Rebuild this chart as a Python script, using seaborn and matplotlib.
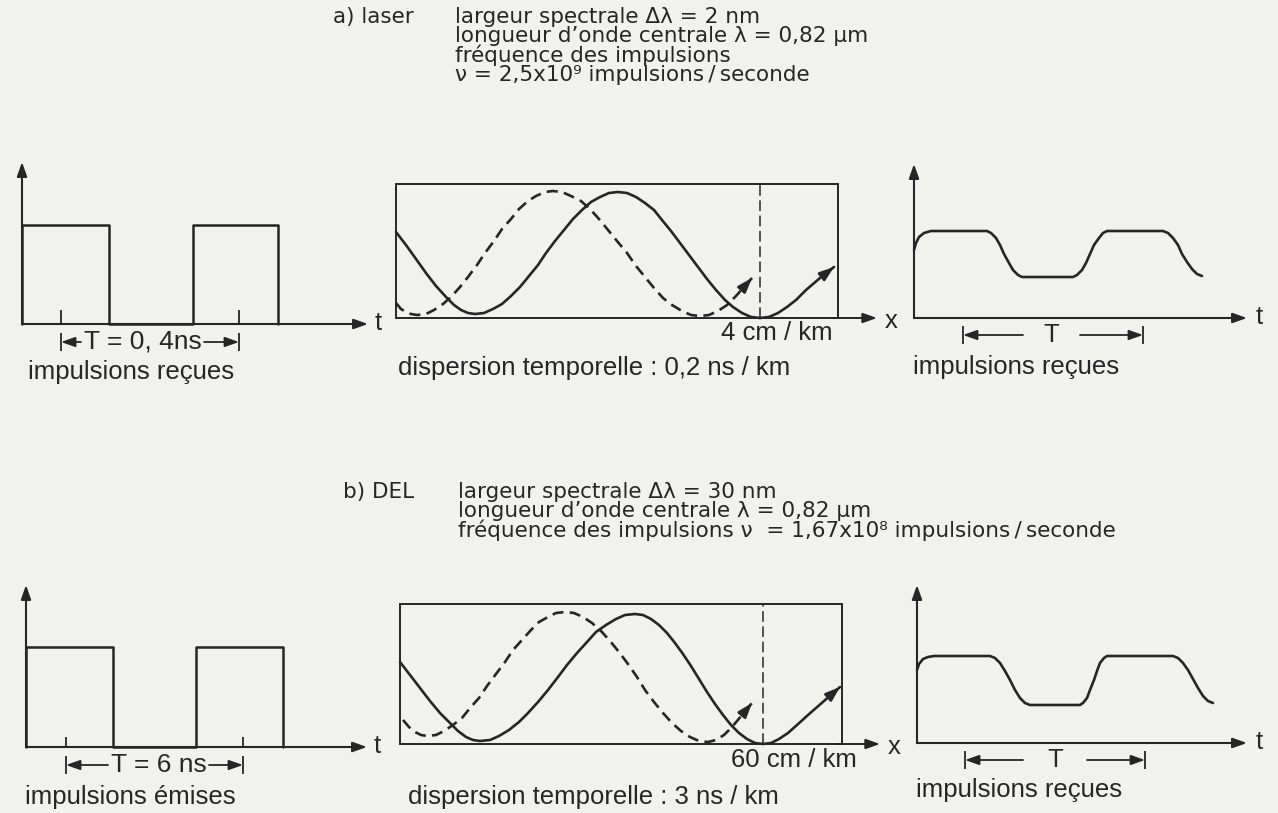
import matplotlib
matplotlib.use("Agg")
import matplotlib.pyplot as plt
import pandas as pd
import seaborn as sns

# ------------------------------------------------------------------ data
# a) laser : emitted pulse train (local units, t along axis / amplitude)
a_pulse_t = [0, 0, 87, 87, 171, 171, 256, 256]
a_pulse_v = [0, 99, 99, 0, 0, 99, 99, 0]
a_period_marks = [39, 217]

# a) laser : propagation diagram (x along fibre / t)
a_solid_x = [0, 10, 20, 30, 40, 50, 58, 65, 72, 79, 88, 97, 106, 115, 124, 133, 142, 150,
             159, 168, 177, 186, 195, 204, 213, 222, 231, 240, 249, 258, 266, 275, 284,
             293, 302, 311, 320, 329, 337, 346, 355, 364, 373, 382, 391, 400, 410, 424, 438]
a_solid_y = [86, 73, 59, 45, 32, 21, 13, 8, 5, 4, 5, 9, 14, 22, 31, 42, 53, 65,
             77, 88, 99, 108, 116, 121, 125, 126, 125, 121, 115, 108, 98, 87, 75,
             63, 51, 39, 28, 18, 11, 5, 1, 0, 1, 5, 11, 18, 28, 40, 51]
a_dash_x = [0, 5, 10, 15, 21, 30, 38, 47, 55, 64, 72, 81, 89, 98, 106, 115, 123, 132, 140,
            149, 157, 166, 175, 185, 194, 203, 212, 221, 231, 240, 249, 258, 267, 276,
            286, 295, 304, 313, 322, 331, 340, 348, 356]
a_dash_y = [15, 9, 6, 4, 3, 4, 8, 14, 21, 31, 41, 53, 65, 77, 89, 99, 109, 117, 122,
            126, 127, 126, 122, 117, 109, 99, 88, 77, 65, 52, 41, 30, 20, 13,
            7, 3, 2, 3, 7, 13, 22, 31, 40]
a_delay_x = 364

# a) laser : received pulses
a_rx_t = [0, 2, 5, 10, 17, 40, 73, 77, 82, 86, 90, 95, 99, 104, 108, 130, 159, 163, 168,
          172, 176, 180, 185, 189, 193, 220, 249, 254, 259, 264, 268, 273, 278, 283, 288]
a_rx_v = [68, 75, 81, 85, 87, 87, 87, 85, 80, 73, 64, 55, 48, 43, 41, 41, 41, 43, 48,
          55, 64, 73, 80, 85, 87, 87, 87, 85, 80, 73, 64, 56, 49, 44, 42]
a_rx_marks = [49, 229]

# b) DEL : emitted pulse train
b_pulse_t = [0, 0, 87, 87, 170, 170, 257, 257]
b_pulse_v = [0, 100, 100, 0, 0, 100, 100, 0]
b_period_marks = [40, 217]

# b) DEL : propagation diagram
b_solid_x = [0, 10, 20, 30, 40, 50, 58, 66, 73, 80, 90, 99, 109, 119, 128, 138, 148, 158,
             167, 177, 187, 196, 206, 216, 225, 235, 243, 251, 259, 267, 275, 283, 291,
             299, 307, 315, 323, 331, 339, 347, 355, 363, 371, 379, 388, 397, 408, 424, 440]
b_solid_y = [82, 69, 56, 43, 31, 21, 13, 7, 4, 3, 4, 8, 14, 22, 31, 42, 54, 67,
             79, 91, 102, 112, 119, 125, 129, 130, 129, 125, 119, 111, 101, 90, 78,
             65, 52, 40, 29, 19, 11, 5, 1, 0, 1, 5, 11, 19, 29, 43, 57]
b_dash_x = [3, 9, 15, 21, 27, 36, 44, 53, 62, 70, 79, 87, 96, 105, 113, 122, 131, 139, 148,
            156, 165, 174, 183, 192, 201, 210, 219, 228, 237, 245, 254, 263, 272, 281,
            290, 299, 308, 316, 324, 332, 342, 352]
b_dash_y = [24, 17, 12, 9, 8, 9, 13, 19, 26, 36, 46, 58, 70, 82, 94, 104, 114, 122, 127,
            131, 132, 131, 127, 121, 113, 103, 92, 80, 67, 54, 42, 31, 21, 13,
            7, 3, 2, 4, 9, 17, 29, 41]
b_delay_x = 363

# b) DEL : received pulses
b_rx_t = [0, 2, 6, 11, 17, 40, 73, 78, 83, 88, 93, 98, 103, 108, 113, 138, 163, 166, 170,
          173, 177, 180, 183, 187, 190, 220, 256, 261, 266, 271, 276, 281, 286, 291, 296]
b_rx_v = [73, 79, 84, 86, 87, 87, 87, 85, 80, 72, 63, 53, 45, 40, 38, 38, 38, 40, 45,
          53, 63, 72, 80, 85, 87, 87, 87, 85, 80, 73, 64, 55, 47, 42, 40]
b_rx_marks = [48, 228]

# texts
a_title = "a) laser"
a_lines = ["largeur spectrale \u0394\u03bb = 2 nm",
           "longueur d\u2019onde centrale \u03bb = 0,82 \u03bcm",
           "fr\u00e9quence des impulsions",
           "\u03bd = 2,5x10\u2079 impulsions\u2009/\u2009seconde"]
b_title = "b) DEL"
b_lines = ["largeur spectrale \u0394\u03bb = 30 nm",
           "longueur d\u2019onde centrale \u03bb = 0,82 \u03bcm",
           "fr\u00e9quence des impulsions \u03bd  = 1,67x10\u2078 impulsions\u2009/\u2009seconde"]
a_period_text = "T = 0, 4ns"
b_period_text = "T = 6 ns"
a_left_label = "impulsions re\u00e7ues"
b_left_label = "impulsions \u00e9mises"
a_shift_text = "4 cm / km"
b_shift_text = "60 cm / km"
a_disp_text = "dispersion temporelle : 0,2 ns / km"
b_disp_text = "dispersion temporelle : 3 ns / km"
rx_period_text = "T"
rx_label = "impulsions re\u00e7ues"

# ------------------------------------------------------------------ style
W, H = 1278, 813
BG = "#f1f1ee"
INK = "#262626"
sns.set_theme(style="white")
plt.rcParams["font.family"] = ["Liberation Sans", "DejaVu Sans"]
LAB = 18.5
HDR = 15.5
HDR_FONT = ["DejaVu Sans"]

fig = plt.figure(figsize=(W / 100, H / 100), dpi=100, facecolor=BG)


def panel(left, top, width, height, ox, oy):
    ax = fig.add_axes([left / W, 1 - (top + height) / H, width / W, height / H])
    ax.set_xlim(left - ox, left + width - ox)
    ax.set_ylim(oy - top - height, oy - top)
    ax.set_axis_off()
    ax.patch.set_alpha(0)
    return ax


def curve(ax, x, y, lw=1.9, dashed=False):
    df = pd.DataFrame({"x": x, "y": y})
    kw = {"linestyle": (0, (4.2, 2.4))} if dashed else {}
    sns.lineplot(data=df, x="x", y="y", ax=ax, sort=False, estimator=None,
                 color=INK, linewidth=lw, legend=False, **kw)
    ax.set_xlabel("")
    ax.set_ylabel("")


def arrow(ax, start, end, lw=1.5):
    ax.annotate("", xy=end, xytext=start, xycoords="data", textcoords="data",
                annotation_clip=False,
                arrowprops=dict(arrowstyle="-|>,head_length=0.85,head_width=0.3",
                                color=INK, lw=lw, shrinkA=0, shrinkB=0,
                                mutation_scale=10))


def end_arrow(ax, x, y):
    x0, y0, x1, y1 = x[-2], y[-2], x[-1], y[-1]
    arrow(ax, (x1 - 0.45 * (x1 - x0), y1 - 0.45 * (y1 - y0)), (x1, y1), lw=1.9)


def seg(ax, xs, ys, lw=1.4, ls="-"):
    ax.plot(xs, ys, color=INK, lw=lw, ls=ls, solid_capstyle="butt", clip_on=False)


def period(ax, marks, y, tl, tr, text, fs):
    for m in marks:
        seg(ax, [m, m], [y - 9, y + 9], lw=1.3)
    arrow(ax, (tl, y), (marks[0], y), lw=1.3)
    arrow(ax, (tr, y), (marks[1], y), lw=1.3)
    ax.text((tl + tr) / 2, y, text, ha="center", va="center", fontsize=fs, color=INK)


def emitter(ax, pt, pv, marks, ytop, xend, tick_h, tl, tr, ptext, label, xlab, ylab):
    arrow(ax, (0, 0), (0, ytop))
    arrow(ax, (0, 0), (xend, 0))
    ax.text(xend + 7, 1, "t", ha="left", va="center", fontsize=LAB, color=INK)
    curve(ax, pt, pv, lw=1.8)
    for m in marks:
        seg(ax, [m, m], [0, tick_h], lw=1.3)
    period(ax, marks, -18, tl, tr, ptext, LAB + 0.5)
    ax.text(xlab, ylab, label, ha="left", va="center", fontsize=LAB, color=INK)


def fibre(ax, bw, bh, sx, sy, dx, dy, delay, xend, shift, xsh, ysh, disp, xdisp, ydisp):
    ax.add_patch(plt.Rectangle((0, 0), bw, bh, fill=False, ec=INK, lw=1.4))
    arrow(ax, (bw - 5, 0), (xend, 0), lw=1.4)
    ax.text(xend + 8, -3, "x", ha="left", va="center", fontsize=LAB, color=INK)
    seg(ax, [delay, delay], [0, bh], lw=1.1, ls=(0, (7, 3)))
    curve(ax, sx, sy, lw=1.9)
    end_arrow(ax, sx, sy)
    curve(ax, dx, dy, lw=1.9, dashed=True)
    end_arrow(ax, dx, dy)
    ax.text(xsh, ysh, shift, ha="right", va="center", fontsize=LAB, color=INK)
    ax.text(xdisp, ydisp, disp, ha="left", va="center", fontsize=LAB, color=INK)


def receiver(ax, rt, rv, marks, ytop, xend, tl, tr, ylab):
    arrow(ax, (0, 0), (0, ytop))
    arrow(ax, (0, 0), (xend, 0))
    ax.text(xend + 9, 1, "t", ha="left", va="center", fontsize=LAB, color=INK)
    curve(ax, rt, rv, lw=1.9)
    period(ax, marks, -17, tl, tr, rx_period_text, LAB)
    ax.text(-1, ylab, rx_label, ha="left", va="center", fontsize=LAB, color=INK)


# ------------------------------------------------------------------ row a
ax = panel(0, 140, 395, 250, 22, 324)
emitter(ax, a_pulse_t, a_pulse_v, a_period_marks, 162, 346, 14, 59, 182,
        a_period_text, a_left_label, 6, -48)

ax = panel(380, 170, 520, 215, 396, 318)
fibre(ax, 442, 134, a_solid_x, a_solid_y, a_dash_x, a_dash_y, a_delay_x, 481,
      a_shift_text, 437, -15, a_disp_text, 2, -50)

ax = panel(895, 140, 383, 250, 914, 318)
receiver(ax, a_rx_t, a_rx_v, a_rx_marks, 154, 333, 109, 166, -49)

# ------------------------------------------------------------------ row b
ax = panel(0, 560, 395, 253, 26, 747)
emitter(ax, b_pulse_t, b_pulse_v, b_period_marks, 162, 341, 10, 82, 183,
        b_period_text, b_left_label, -1, -50)

ax = panel(384, 590, 520, 223, 400, 744)
fibre(ax, 442, 140, b_solid_x, b_solid_y, b_dash_x, b_dash_y, b_delay_x, 480,
      b_shift_text, 457, -16, b_disp_text, 8, -53)

ax = panel(897, 560, 381, 253, 917, 743)
receiver(ax, b_rx_t, b_rx_v, b_rx_marks, 158, 330, 106, 170, -47)


# ------------------------------------------------------------------ headers
def header(title, tx, lines, lx, ytop):
    fig.text(tx / W, 1 - ytop / H, title, ha="left", va="top", fontsize=HDR,
             family=HDR_FONT, color=INK)
    fig.text(lx / W, 1 - ytop / H, "\n".join(lines), ha="left", va="top",
             fontsize=HDR, family=HDR_FONT, color=INK, linespacing=0.93)


header(a_title, 333, a_lines, 455, 7)
header(b_title, 343, b_lines, 458, 482)

fig.savefig("out.png", dpi=100, facecolor=BG)
